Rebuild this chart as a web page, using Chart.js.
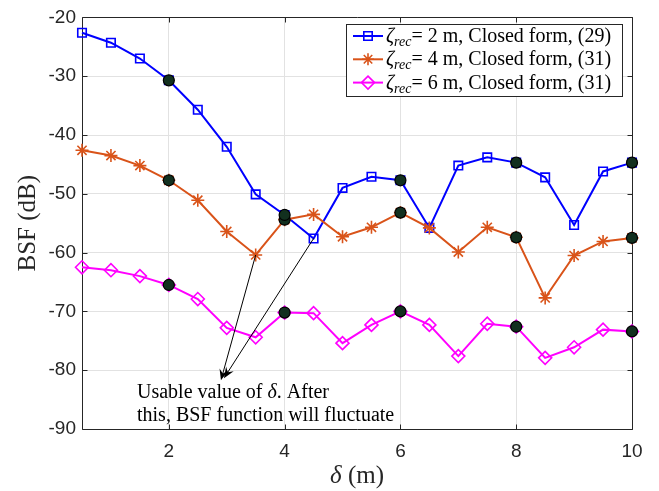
<!DOCTYPE html>
<html>
<head>
<meta charset="utf-8">
<script src="https://cdn.jsdelivr.net/npm/chart.js@4.4.1/dist/chart.umd.min.js"></script>
<style>
  html, body { margin: 0; padding: 0; background: #fff; }
  #wrap { width: 659px; height: 491px; }
</style>
</head>
<body>
<div id="wrap"><canvas id="c"></canvas></div>
<script>

// delta (m) on the x axis
const delta = [0.5, 1, 1.5, 2, 2.5, 3, 3.5, 4, 4.5, 5, 5.5, 6, 6.5, 7, 7.5, 8, 8.5, 9, 9.5, 10];

// BSF (dB) for each zeta_rec
const bsf2m = [-22.6, -24.3, -27.0, -30.7, -35.7, -42.0, -50.1, -53.6, -57.6, -49.0,
               -47.1, -47.7, -55.8, -45.2, -43.8, -44.7, -47.2, -55.3, -46.2, -44.7];
const bsf4m = [-42.6, -43.5, -45.2, -47.7, -51.1, -56.4, -60.4, -54.4, -53.5, -57.3,
               -55.7, -53.2, -55.8, -59.9, -55.7, -57.4, -67.7, -60.5, -58.1, -57.5];
const bsf6m = [-62.5, -63.0, -64.0, -65.5, -67.9, -72.8, -74.4, -70.2, -70.3, -75.4,
               -72.3, -70.0, -72.3, -77.6, -72.1, -72.6, -77.9, -76.1, -73.1, -73.4];

// points marked with the dark circles
const markedDelta = [2, 4, 6, 8, 10];

const xTicks = [2, 4, 6, 8, 10];
const yTicks = [-90, -80, -70, -60, -50, -40, -30, -20];

const legendText = ['= 2 m, Closed form, (29)', '= 4 m, Closed form, (31)', '= 6 m, Closed form, (31)'];
const noteLines = ['Usable value of \u03b4. After', 'this, BSF function will fluctuate'];
// arrow tip of the note, in data units
const noteTip = { x: 2.9, y: -81.7 };

const blue = '#0000ff', orange = '#d95319', magenta = '#ff00ff';
const axisColor = '#262626';
const serif = '"Liberation Serif"';

function pts(ys) {
  return delta.map((d, i) => ({ x: d, y: ys[i] }));
}
function marked(ys) {
  return markedDelta.map(d => ({ x: d, y: ys[delta.indexOf(d)] }));
}

function lineSet(label, ys, color, style, r, order) {
  return {
    label: label,
    data: pts(ys),
    borderColor: color,
    backgroundColor: color,
    borderWidth: 2,
    pointStyle: style,
    pointRadius: r,
    pointBorderWidth: 1.6,
    pointBorderColor: color,
    pointBackgroundColor: 'rgba(255,255,255,0)',
    tension: 0,
    clip: false,
    order: order
  };
}

function dotSet(ys) {
  return {
    label: '',
    data: marked(ys),
    showLine: false,
    pointStyle: 'circle',
    pointRadius: 5.5,
    pointBorderWidth: 1.2,
    pointBorderColor: '#000',
    pointBackgroundColor: '#12301f',
    clip: false,
    order: 0
  };
}

// draw a marker the same way in the legend
function marker(ctx, style, x, y, color) {
  ctx.save();
  ctx.strokeStyle = color;
  ctx.lineWidth = 1.6;
  ctx.beginPath();
  if (style === 'rect') {
    ctx.rect(x - 4.2, y - 4.2, 8.4, 8.4);
  } else if (style === 'star') {
    for (let k = 0; k < 4; k++) {
      const a = k * Math.PI / 4;
      ctx.moveTo(x - 6 * Math.cos(a), y - 6 * Math.sin(a));
      ctx.lineTo(x + 6 * Math.cos(a), y + 6 * Math.sin(a));
    }
  } else {
    ctx.moveTo(x, y - 6.5); ctx.lineTo(x + 6.5, y); ctx.lineTo(x, y + 6.5); ctx.lineTo(x - 6.5, y); ctx.closePath();
  }
  ctx.stroke();
  ctx.restore();
}

function arrow(ctx, x0, y0, x1, y1) {
  const a = Math.atan2(y1 - y0, x1 - x0);
  const len = 11, hw = 4.5;
  ctx.beginPath();
  ctx.moveTo(x0, y0);
  ctx.lineTo(x1 - Math.cos(a) * 6, y1 - Math.sin(a) * 6);
  ctx.stroke();
  ctx.beginPath();
  ctx.moveTo(x1, y1);
  ctx.lineTo(x1 - len * Math.cos(a) + hw * Math.sin(a), y1 - len * Math.sin(a) - hw * Math.cos(a));
  ctx.lineTo(x1 - 7 * Math.cos(a), y1 - 7 * Math.sin(a));
  ctx.lineTo(x1 - len * Math.cos(a) - hw * Math.sin(a), y1 - len * Math.sin(a) + hw * Math.cos(a));
  ctx.closePath();
  ctx.fill();
}

const framePlugin = {
  id: 'frame',
  beforeDatasetsDraw(chart) {
    const { ctx, chartArea: a, scales: { x, y } } = chart;
    const L = Math.round(a.left) + 0.5, R = Math.round(a.right) + 0.5;
    const T = Math.round(a.top) + 0.5, B = Math.round(a.bottom) + 0.5;
    ctx.save();
    ctx.strokeStyle = axisColor;
    ctx.lineWidth = 1;
    ctx.beginPath();
    ctx.rect(L, T, R - L, B - T);
    xTicks.forEach(v => {
      const px = Math.round(x.getPixelForValue(v)) + 0.5;
      ctx.moveTo(px, B); ctx.lineTo(px, B - 5);
      ctx.moveTo(px, T); ctx.lineTo(px, T + 5);
    });
    yTicks.forEach(v => {
      const py = Math.round(y.getPixelForValue(v)) + 0.5;
      ctx.moveTo(L, py); ctx.lineTo(L + 5, py);
      ctx.moveTo(R, py); ctx.lineTo(R - 5, py);
    });
    ctx.stroke();
    ctx.restore();
  },
  afterDatasetsDraw(chart) {
    const { ctx, scales: { x, y } } = chart;
    const tx = x.getPixelForValue(noteTip.x), ty = y.getPixelForValue(noteTip.y);
    ctx.save();
    ctx.strokeStyle = '#000';
    ctx.fillStyle = '#000';
    ctx.lineWidth = 1;
    const i35 = delta.indexOf(3.5), i45 = delta.indexOf(4.5);
    arrow(ctx, x.getPixelForValue(3.5), y.getPixelForValue(bsf4m[i35]), tx, ty);
    arrow(ctx, x.getPixelForValue(4.5), y.getPixelForValue(bsf2m[i45]), tx + 3, ty - 2);

    // note text
    const f = '20px ' + serif;
    ctx.font = f;
    ctx.textBaseline = 'alphabetic';
    ctx.textAlign = 'left';
    ctx.fillStyle = '#000';
    ctx.fillText('Usable value of ', 137, 398);
    let w = ctx.measureText('Usable value of ').width;
    ctx.font = 'italic 20px ' + serif;
    ctx.fillText('\u03b4', 137 + w, 398);
    w += ctx.measureText('\u03b4').width;
    ctx.font = f;
    ctx.fillText('. After', 137 + w, 398);
    ctx.fillText(noteLines[1], 137, 421);
    ctx.restore();
  },
  afterDraw(chart) {
    const { ctx, chartArea: a } = chart;
    ctx.save();
    // x axis title: italic delta + (m)
    ctx.fillStyle = axisColor;
    ctx.textBaseline = 'alphabetic';
    ctx.font = 'italic 25px ' + serif;
    const w1 = ctx.measureText('\u03b4').width;
    ctx.font = '25px ' + serif;
    const w2 = ctx.measureText(' (m)').width;
    const cx = (a.left + a.right) / 2;
    let sx = cx - (w1 + w2) / 2;
    ctx.font = 'italic 25px ' + serif;
    ctx.textAlign = 'left';
    ctx.fillText('\u03b4', sx, 483);
    ctx.font = '25px ' + serif;
    ctx.fillText(' (m)', sx + w1, 483);

    // legend
    ctx.fillStyle = '#fff';
    ctx.fillRect(346.5, 24.5, 276, 72);
    ctx.strokeStyle = axisColor;
    ctx.lineWidth = 1;
    ctx.strokeRect(346.5, 24.5, 276, 72);
    const cols = [blue, orange, magenta];
    const styles = ['rect', 'star', 'rectRot'];
    for (let i = 0; i < 3; i++) {
      const ry = 36 + i * 23.3;
      ctx.strokeStyle = cols[i];
      ctx.lineWidth = 2;
      ctx.beginPath();
      ctx.moveTo(353, ry); ctx.lineTo(383, ry);
      ctx.stroke();
      marker(ctx, styles[i], 368, ry, cols[i]);
      ctx.fillStyle = '#000';
      let px = 386;
      ctx.font = 'italic 20px ' + serif;
      ctx.fillText('\u03b6', px, ry + 6);
      px += ctx.measureText('\u03b6').width;
      ctx.font = 'italic 14px ' + serif;
      ctx.fillText('rec', px, ry + 10);
      px += ctx.measureText('rec').width;
      ctx.font = '20px ' + serif;
      ctx.fillText(legendText[i], px, ry + 6);
    }
    ctx.restore();
  }
};

const ctx = document.getElementById('c').getContext('2d');
new Chart(ctx, {
  type: 'line',
  data: {
    datasets: [
      lineSet('zeta_rec = 2 m', bsf2m, blue, 'rect', 6, 3),
      lineSet('zeta_rec = 4 m', bsf4m, orange, 'star', 6.5, 2),
      lineSet('zeta_rec = 6 m', bsf6m, magenta, 'rectRot', 6.5, 1),
      dotSet(bsf2m),
      dotSet(bsf4m),
      dotSet(bsf6m)
    ]
  },
  options: {
    responsive: true,
    maintainAspectRatio: false,
    animation: false,
    devicePixelRatio: 1,
    layout: { autoPadding: false, padding: { left: 0, top: 13, right: 27, bottom: 0 } },
    plugins: {
      legend: { display: false },
      tooltip: { enabled: false }
    },
    scales: {
      x: {
        type: 'linear',
        min: 0.5,
        max: 10,
        afterBuildTicks: s => { s.ticks = xTicks.map(v => ({ value: v })); },
        afterFit: s => { s.height = 62; },
        grid: { color: '#e2e2e2', drawTicks: false },
        border: { display: false },
        ticks: {
          color: axisColor,
          font: { family: 'Liberation Sans', size: 19 },
          padding: 11,
          maxRotation: 0
        }
      },
      y: {
        type: 'linear',
        min: -90,
        max: -20,
        afterBuildTicks: s => { s.ticks = yTicks.map(v => ({ value: v })); },
        afterFit: s => { s.width = 82; },
        grid: { color: '#e2e2e2', drawTicks: false },
        border: { display: false },
        ticks: {
          color: axisColor,
          font: { family: 'Liberation Sans', size: 19 },
          padding: 6
        },
        title: {
          display: true,
          text: 'BSF (dB)',
          color: axisColor,
          font: { family: 'Liberation Serif', size: 25, lineHeight: 1.2 },
          padding: { top: 13, bottom: 0 }
        }
      }
    }
  },
  plugins: [framePlugin]
});
</script>
</body>
</html>
